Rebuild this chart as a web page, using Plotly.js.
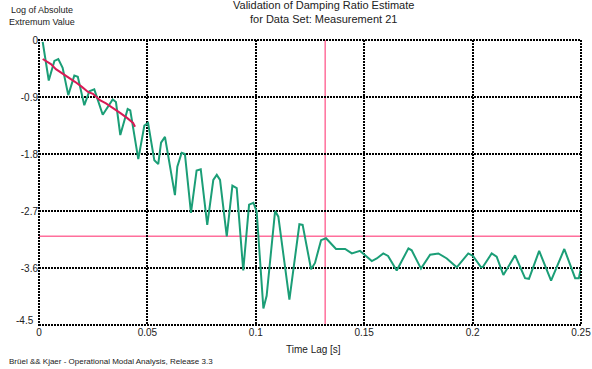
<!DOCTYPE html>
<html>
<head>
<meta charset="utf-8">
<script src="https://cdn.plot.ly/plotly-3.0.1.min.js"></script>
<style>html,body{margin:0;padding:0;background:#fff;}#chart{width:592px;height:369px;}</style>
</head>
<body>
<div id="chart"></div>
<script>
// Measured curve: log of absolute extremum value vs time lag
const timeLag = [0.0017,0.0045,0.0071,0.0089,0.0109,0.0135,0.0163,0.0179,0.0209,0.0232,0.0255,0.0294,0.0340,0.0355,0.0375,0.0409,0.0421,0.0458,0.0486,0.0503,0.0532,0.0550,0.0563,0.0581,0.0627,0.0638,0.0658,0.0673,0.0701,0.0727,0.0746,0.0776,0.0804,0.0820,0.0835,0.0866,0.0892,0.0912,0.0942,0.0969,0.0989,0.1004,0.1035,0.1050,0.1089,0.1104,0.1155,0.1201,0.1216,0.1255,0.1273,0.1301,0.1324,0.1370,0.1412,0.1443,0.1481,0.1535,0.1558,0.1588,0.1610,0.1650,0.1704,0.1719,0.1762,0.1804,0.1842,0.1881,0.1927,0.1980,0.2002,0.2039,0.2048,0.2088,0.2111,0.2142,0.2196,0.2242,0.2260,0.2307,0.2362,0.2423,0.2473,0.2490,0.2500];
const logExtremum = [-0.03,-0.64,-0.33,-0.30,-0.44,-0.87,-0.56,-0.58,-1.03,-0.81,-0.78,-1.18,-0.94,-0.98,-1.50,-1.09,-1.11,-1.88,-1.35,-1.31,-1.90,-1.96,-1.62,-1.53,-2.45,-2.00,-1.78,-1.80,-2.73,-2.06,-2.04,-2.92,-2.21,-2.13,-2.21,-3.10,-2.30,-2.34,-3.64,-2.60,-2.57,-2.71,-4.24,-4.04,-2.70,-2.79,-4.10,-2.91,-2.92,-3.62,-3.52,-3.16,-3.13,-3.30,-3.30,-3.37,-3.33,-3.49,-3.45,-3.37,-3.41,-3.64,-3.29,-3.32,-3.61,-3.39,-3.37,-3.45,-3.59,-3.37,-3.41,-3.59,-3.58,-3.37,-3.42,-3.71,-3.40,-3.76,-3.77,-3.33,-3.80,-3.30,-3.76,-3.76,-3.60];
// Fitted decay line
const fitLag = [0.0017,0.0042,0.0055,0.0078,0.0106,0.0134,0.0166,0.0198,0.0226,0.0249,0.0281,0.0309,0.0341,0.0374,0.0406,0.0434,0.0443];
const fitValue = [-0.30,-0.36,-0.38,-0.46,-0.52,-0.58,-0.66,-0.74,-0.82,-0.85,-0.95,-1.00,-1.07,-1.15,-1.23,-1.31,-1.37];
// Markers
const cursorLag = 0.132;
const cursorLevel = -3.1;
// Axes
const xTicks = [0, 0.05, 0.1, 0.15, 0.2, 0.25];
const xTickText = ['0','0.05','0.1','0.15','0.2','0.25'];
const yTicks = [0, -0.9, -1.8, -2.7, -3.6, -4.5];
const yTickText = ['0','-0.9','-1.8','-2.7','-3.6','-4.5'];
const xRange = [0, 0.25];
const yRange = [-4.5, 0];

const font = 'Liberation Sans, Arial, sans-serif';
const traces = [
  {x: timeLag, y: logExtremum, mode: 'lines', line: {color: '#1b9e77', width: 2}, hoverinfo: 'skip'},
  {x: fitLag, y: fitValue, mode: 'lines', line: {color: '#d81b56', width: 2}, hoverinfo: 'skip'}
];
const dotted = '2px,1px';
const lastY = yTicks.length - 1;
const layout = {
  width: 592, height: 369,
  margin: {l: 39, r: 11, t: 40, b: 44},
  paper_bgcolor: '#fff', plot_bgcolor: '#fff',
  showlegend: false,
  font: {family: font, size: 10, color: '#222'},
  xaxis: {range: xRange, tickvals: xTicks, ticktext: xTickText, showgrid: true, gridcolor: '#000', gridwidth: 2, griddash: dotted, zeroline: false, showline: false, ticks: '', tickfont: {size: 10}, fixedrange: true},
  yaxis: {range: yRange, tickvals: yTicks, ticktext: yTickText.map((t, i) => i === lastY ? '' : t), showgrid: true, gridcolor: '#000', gridwidth: 2, griddash: dotted, zeroline: false, showline: false, ticks: '', tickfont: {size: 10}, fixedrange: true},
  shapes: [
    {type: 'line', xref: 'x', yref: 'paper', x0: cursorLag, x1: cursorLag, y0: 0, y1: 1, line: {color: '#ff6f9c', width: 1.5}, layer: 'below'},
    {type: 'line', xref: 'paper', yref: 'y', x0: 0, x1: 1, y0: cursorLevel, y1: cursorLevel, line: {color: '#ff6f9c', width: 1.5}, layer: 'below'},
    {type: 'rect', xref: 'paper', yref: 'paper', x0: 0, x1: 1, y0: 0, y1: 1, line: {color: '#000', width: 2, dash: dotted}, layer: 'above'}
  ],
  annotations: [
    {text: yTickText[lastY], xref: 'paper', yref: 'y', x: 0, y: yTicks[lastY], xshift: -3, yshift: 5, xanchor: 'right', yanchor: 'middle', showarrow: false, font: {size: 10, color: '#222'}},
    {text: 'Validation of Damping Ratio Estimate<br>for Data Set: Measurement 21', xref: 'paper', yref: 'paper', x: (323-39)/542, y: 1, yshift: 28, xanchor: 'center', yanchor: 'middle', showarrow: false, font: {size: 11, color: '#222'}},
    {text: 'Log of Absolute<br>Extremum Value', xref: 'paper', yref: 'paper', x: (42-39)/542, y: 1, yshift: 24, xanchor: 'center', yanchor: 'middle', showarrow: false, font: {size: 9, color: '#222'}},
    {text: 'Time Lag [s]', xref: 'paper', yref: 'paper', x: (313-39)/542, y: 0, yshift: -24, xanchor: 'center', yanchor: 'middle', showarrow: false, font: {size: 10, color: '#222'}},
    {text: 'Brüel && Kjaer - Operational Modal Analysis, Release 3.3', xref: 'paper', yref: 'paper', x: (7-39)/542, y: 0, yshift: -36, xanchor: 'left', yanchor: 'middle', showarrow: false, font: {size: 8, color: '#222'}}
  ]
};
Plotly.newPlot('chart', traces, layout, {staticPlot: true, displayModeBar: false});
</script>
</body>
</html>
